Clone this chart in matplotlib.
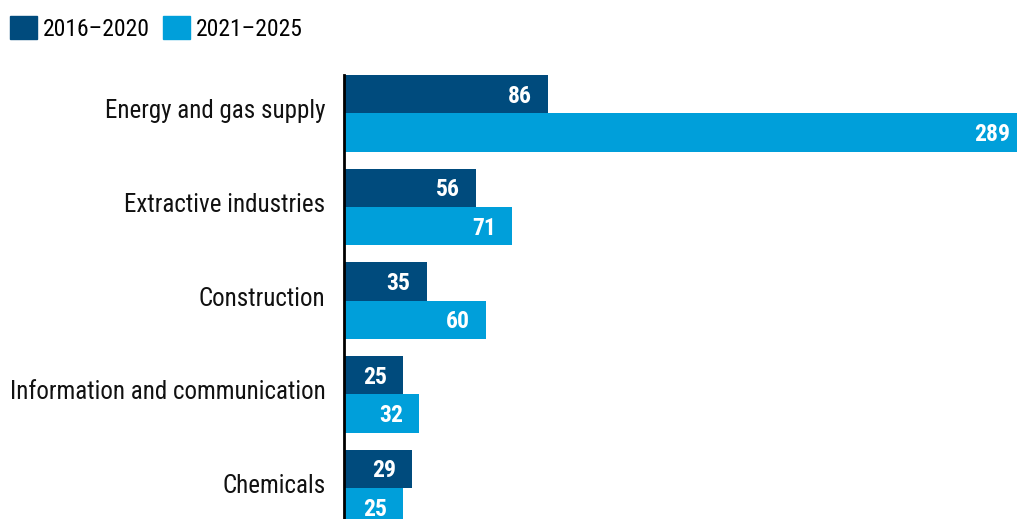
import matplotlib.pyplot as plt
from matplotlib.patches import Patch

plt.rcParams['font.family'] = ['Roboto Condensed', 'Liberation Sans', 'DejaVu Sans']

categories = ['Energy and gas supply', 'Extractive industries', 'Construction',
              'Information and communication', 'Chemicals']
series_names = ['2016\u20132020', '2021\u20132025']
values_2016_2020 = [86, 56, 35, 25, 29]
values_2021_2025 = [289, 71, 60, 32, 25]

dark = '#004b7d'
light = '#009fda'

fig = plt.figure(figsize=(10.17, 5.19), dpi=100)
ax = fig.add_axes([343.5 / 1017, 0, 1 - 343.5 / 1017, 444 / 519])

h = 0.41
xmax = 283.8
pos = list(range(len(categories)))
ax.barh([p - h / 2 for p in pos], values_2016_2020, height=h, color=dark)
ax.barh([p + h / 2 for p in pos], values_2021_2025, height=h, color=light)

ax.set_xlim(0, xmax)
ax.set_ylim(4.33, -0.41)
ax.set_xticks([])
ax.set_yticks([])
for s in ['top', 'right', 'bottom']:
    ax.spines[s].set_visible(False)
ax.spines['left'].set_linewidth(2)
ax.spines['left'].set_color('black')
ax.spines['left'].set_zorder(5)

for p, name in zip(pos, categories):
    ax.annotate(name, (0, p), xytext=(-18, -5), textcoords='offset pixels',
                ha='right', va='baseline', fontsize=18, color='#111111')

# the longest bar runs past the right edge, so its label sits at the edge
for vals, off in [(values_2016_2020, -h / 2), (values_2021_2025, h / 2)]:
    for p, v in zip(pos, vals):
        x = min(v, xmax)
        pad = -7 if v > xmax else -16
        ax.annotate(str(v), (x, p + off), xytext=(pad, -8.5), textcoords='offset pixels',
                    ha='right', va='baseline', fontsize=17, fontweight='bold',
                    color='white')

handles = [Patch(color=dark), Patch(color=light)]
fig.legend(handles, series_names, loc='upper left', bbox_to_anchor=(-2 / 1017, 1 - 4 / 519),
           ncol=2, frameon=False, fontsize=17, handlelength=1.15, handleheight=1.15,
           handletextpad=0.25, columnspacing=0.57, borderpad=0)

fig.savefig('out.png', dpi=100)
